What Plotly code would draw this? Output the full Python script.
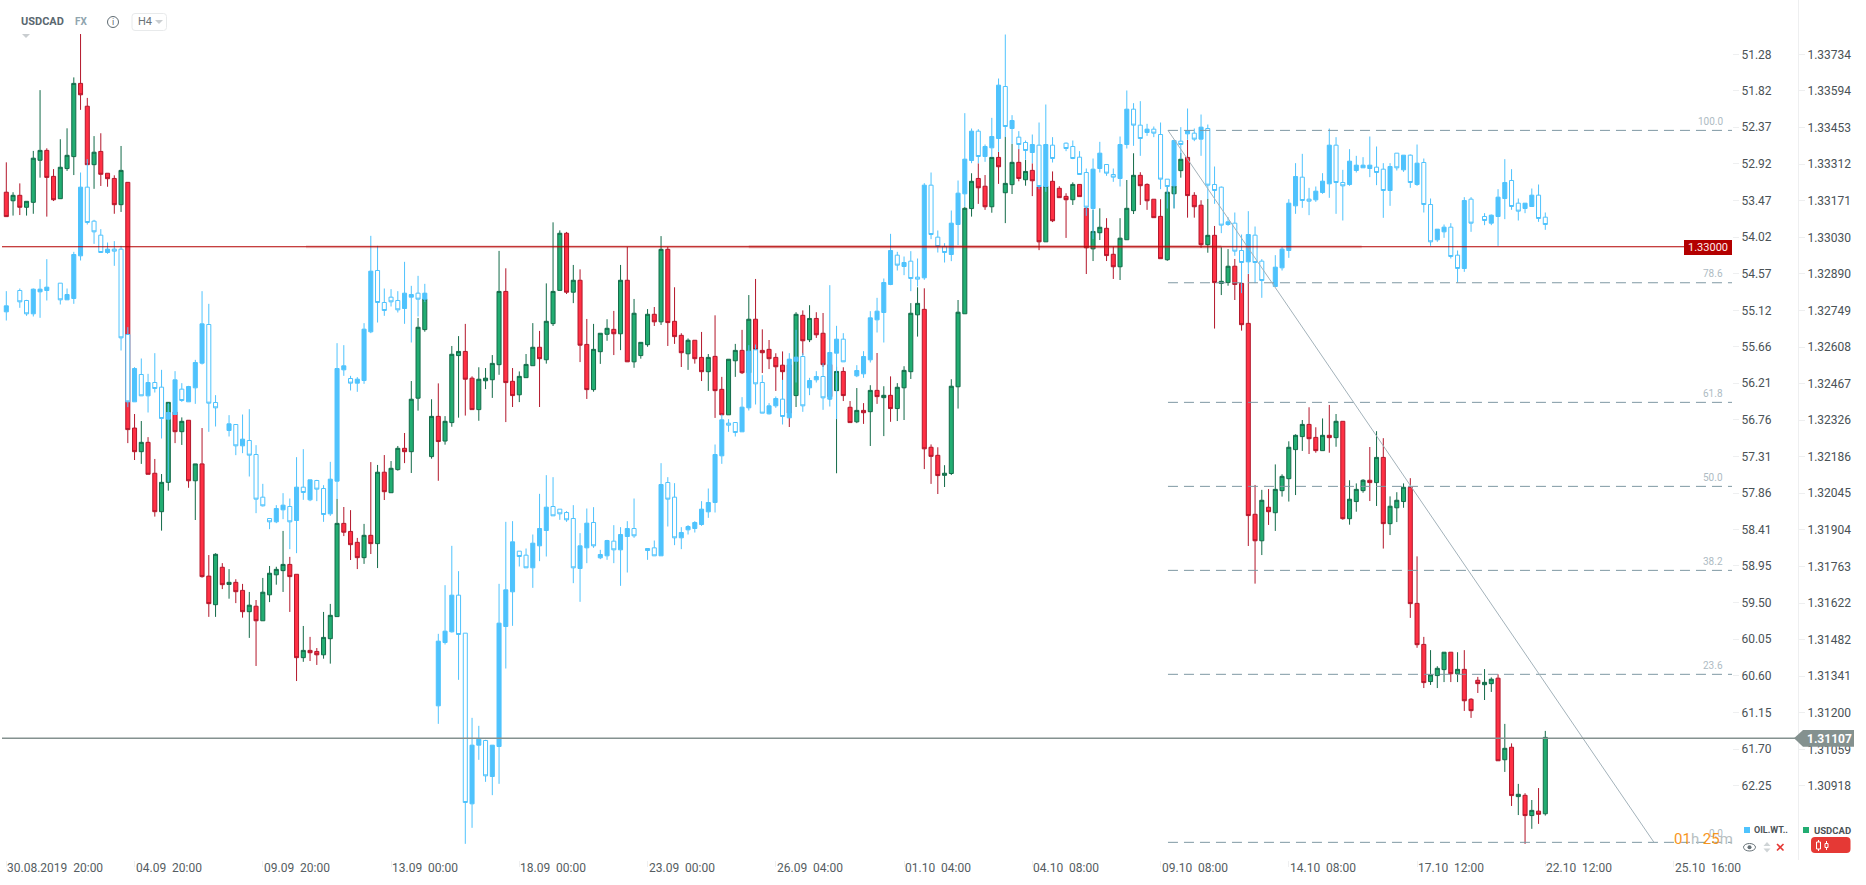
import plotly.graph_objects as go

# USDCAD H4 candles
usd_open = [1.33204,1.33171,1.33192,1.33146,1.33165,1.33327,1.33365,1.33265,1.33179,1.33295,
1.33341,1.33623,1.33535,1.33310,1.33361,1.33277,1.33257,1.33156,1.33242,1.32296,
1.32205,1.32241,1.32122,1.31974,1.32087,1.32358,1.32282,1.32326,1.32093,1.32158,
1.31726,1.31616,1.31760,1.31694,1.31702,1.31671,1.31589,1.31610,1.31554,1.31654,
1.31731,1.31747,1.31771,1.31733,1.31412,1.31440,1.31436,1.31423,1.31485,1.31570,
1.31929,1.31898,1.31856,1.31797,1.31883,1.31851,1.32126,1.32047,1.32136,1.32218,
1.32205,1.32411,1.32675,1.32186,1.32341,1.32246,1.32317,1.32575,1.32591,1.32488,
1.32367,1.32478,1.32482,1.32540,1.32822,1.32476,1.32424,1.32490,1.32536,1.32607,
1.32559,1.32698,1.32826,1.33046,1.32819,1.32865,1.32618,1.32444,1.32590,1.32657,
1.32676,1.32659,1.32865,1.32551,1.32575,1.32617,1.32734,1.32705,1.32984,1.32707,
1.32653,1.32582,1.32634,1.32568,1.32513,1.32572,1.32445,1.32347,1.32555,1.32595,
1.32509,1.32715,1.32595,1.32599,1.32568,1.32538,1.32539,1.32421,1.32730,1.32636,
1.32718,1.32661,1.32540,1.32440,1.32514,1.32376,1.32320,1.32364,1.32359,1.32441,
1.32413,1.32422,1.32371,1.32451,1.32513,1.32732,1.32753,1.32222,1.32191,1.32114,
1.32121,1.32455,1.32736,1.33141,1.33257,1.33227,1.33148,1.33338,1.33202,1.33233,
1.33319,1.33252,1.33288,1.33225,1.33013,1.33246,1.33219,1.33188,1.33175,1.33234,
1.33142,1.32986,1.33048,1.33065,1.32965,1.32917,1.33021,1.33133,1.33269,1.33234,
1.33177,1.33111,1.32944,1.33198,1.33287,1.33338,1.33192,1.33154,1.33002,1.33038,
1.32853,1.32856,1.32919,1.32853,1.32699,1.31964,1.31862,1.31991,1.31970,1.32055,
1.32101,1.32213,1.32263,1.32310,1.32260,1.32209,1.32268,1.32259,1.32322,1.31947,
1.32013,1.32055,1.32095,1.32086,1.32183,1.31928,1.31989,1.32013,1.32068,1.31621,
1.31463,1.31320,1.31343,1.31366,1.31433,1.31350,1.31367,1.31252,1.31325,1.31308,
1.31312,1.31333,1.31019,1.31067,1.30877,1.30882,1.30804,1.30821,1.30811]
usd_high = [1.33319,1.33204,1.33238,1.33169,1.33363,1.33597,1.33373,1.33293,1.33408,1.33450,
1.33646,1.33813,1.33567,1.33420,1.33431,1.33277,1.33269,1.33382,1.33242,1.32350,
1.32323,1.32261,1.32177,1.32119,1.32395,1.32385,1.32337,1.32326,1.32158,1.32296,
1.31807,1.31814,1.31776,1.31753,1.31714,1.31696,1.31665,1.31634,1.31719,1.31765,
1.31762,1.31900,1.31800,1.31733,1.31534,1.31492,1.31449,1.31588,1.31619,1.32023,
1.31992,1.31980,1.31873,1.31927,1.32165,1.32154,1.32192,1.32169,1.32227,1.32277,
1.32477,1.32720,1.32816,1.32407,1.32468,1.32342,1.32612,1.32650,1.32697,1.32495,
1.32530,1.32527,1.32577,1.32978,1.32911,1.32527,1.32514,1.32581,1.32700,1.32670,
1.32853,1.33088,1.33057,1.33051,1.32924,1.32907,1.32716,1.32697,1.32661,1.32715,
1.32747,1.32924,1.32993,1.32793,1.32626,1.32754,1.32762,1.33035,1.32993,1.32838,
1.32661,1.32641,1.32634,1.32666,1.32581,1.32730,1.32493,1.32561,1.32620,1.32674,
1.32808,1.32870,1.32676,1.32635,1.32584,1.32591,1.32558,1.32742,1.32749,1.32769,
1.32742,1.32739,1.32540,1.32532,1.32530,1.32400,1.32450,1.32392,1.32461,1.32585,
1.32457,1.32495,1.32469,1.32534,1.32777,1.32838,1.32834,1.32233,1.32222,1.32153,
1.32484,1.32789,1.33148,1.33277,1.33315,1.33270,1.33338,1.33359,1.33417,1.33390,
1.33370,1.33328,1.33315,1.33225,1.33228,1.33284,1.33227,1.33200,1.33242,1.33234,
1.33148,1.33136,1.33142,1.33104,1.32994,1.33104,1.33251,1.33354,1.33281,1.33238,
1.33177,1.33177,1.33248,1.33228,1.33355,1.33405,1.33204,1.33173,1.33178,1.33074,
1.32992,1.32985,1.32947,1.32853,1.32889,1.32077,1.32058,1.32061,1.32156,1.32118,
1.32245,1.32272,1.32327,1.32376,1.32299,1.32333,1.32385,1.32350,1.32322,1.32095,
1.32083,1.32099,1.32223,1.32284,1.32257,1.32033,1.32049,1.32083,1.32103,1.31802,
1.31492,1.31441,1.31379,1.31433,1.31433,1.31433,1.31441,1.31256,1.31338,1.31368,
1.31336,1.31348,1.31157,1.31082,1.30926,1.30890,1.30864,1.30910,1.31130]
usd_low = [1.33110,1.33114,1.33116,1.33114,1.33121,1.33260,1.33110,1.33170,1.33179,1.33286,
1.33270,1.33521,1.33310,1.33217,1.33228,1.33225,1.33121,1.33128,1.32238,1.32173,
1.32158,1.32118,1.31955,1.31901,1.32055,1.32238,1.32231,1.32066,1.31942,1.31720,
1.31569,1.31569,1.31676,1.31639,1.31622,1.31566,1.31488,1.31380,1.31554,1.31626,
1.31693,1.31665,1.31588,1.31322,1.31396,1.31399,1.31384,1.31408,1.31389,1.31570,
1.31880,1.31788,1.31753,1.31773,1.31811,1.31757,1.32019,1.32047,1.32132,1.32161,
1.32123,1.32363,1.32667,1.32178,1.32093,1.32232,1.32301,1.32336,1.32344,1.32367,
1.32324,1.32446,1.32412,1.32501,1.32319,1.32377,1.32396,1.32490,1.32536,1.32377,
1.32544,1.32689,1.32826,1.32812,1.32777,1.32550,1.32408,1.32436,1.32543,1.32632,
1.32577,1.32596,1.32551,1.32528,1.32563,1.32609,1.32689,1.32693,1.32612,1.32620,
1.32531,1.32520,1.32544,1.32477,1.32439,1.32335,1.32347,1.32347,1.32493,1.32504,
1.32494,1.32596,1.32508,1.32523,1.32439,1.32481,1.32300,1.32377,1.32577,1.32627,
1.32643,1.32531,1.32404,1.32122,1.32400,1.32317,1.32315,1.32312,1.32227,1.32389,
1.32265,1.32320,1.32323,1.32327,1.32485,1.32648,1.32138,1.32081,1.32042,1.32069,
1.32115,1.32371,1.32736,1.33110,1.33159,1.33136,1.33125,1.33236,1.33085,1.33197,
1.33246,1.33229,1.33189,1.32981,1.33013,1.33089,1.33183,1.33028,1.33155,1.33187,
1.32889,1.32939,1.33020,1.32939,1.32870,1.32866,1.33021,1.33120,1.33155,1.33136,
1.33106,1.32948,1.32940,1.33142,1.33260,1.33106,1.33106,1.32990,1.32971,1.32679,
1.32808,1.32844,1.32789,1.32671,1.31842,1.31697,1.31807,1.31923,1.31900,1.32032,
1.32013,1.32038,1.32208,1.32196,1.32201,1.32209,1.32201,1.32224,1.31943,1.31924,
1.31974,1.32047,1.32015,1.31996,1.31832,1.31884,1.31934,1.31989,1.31565,1.31450,
1.31295,1.31307,1.31295,1.31318,1.31318,1.31318,1.31207,1.31180,1.31276,1.31249,
1.31280,1.31015,1.30972,1.30841,1.30806,1.30695,1.30753,1.30772,1.30804]
usd_close = [1.33110,1.33192,1.33146,1.33169,1.33335,1.33365,1.33261,1.33175,1.33300,1.33346,
1.33623,1.33579,1.33310,1.33358,1.33273,1.33256,1.33156,1.33288,1.32290,1.32205,
1.32241,1.32118,1.31974,1.32087,1.32395,1.32282,1.32322,1.32093,1.32158,1.31724,
1.31620,1.31810,1.31693,1.31702,1.31666,1.31589,1.31614,1.31554,1.31664,1.31737,
1.31752,1.31771,1.31724,1.31412,1.31440,1.31431,1.31423,1.31490,1.31575,1.31929,
1.31895,1.31847,1.31797,1.31883,1.31851,1.32126,1.32051,1.32141,1.32218,1.32205,
1.32407,1.32684,1.32793,1.32341,1.32244,1.32322,1.32580,1.32591,1.32484,1.32367,
1.32484,1.32488,1.32545,1.32822,1.32471,1.32421,1.32495,1.32541,1.32607,1.32563,
1.32707,1.32822,1.33046,1.32819,1.32865,1.32615,1.32444,1.32599,1.32661,1.32680,
1.32659,1.32865,1.32551,1.32738,1.32626,1.32734,1.32705,1.32984,1.32702,1.32648,
1.32586,1.32634,1.32563,1.32513,1.32568,1.32440,1.32347,1.32561,1.32595,1.32509,
1.32715,1.32598,1.32586,1.32563,1.32532,1.32513,1.32354,1.32734,1.32632,1.32718,
1.32655,1.32540,1.32417,1.32514,1.32421,1.32317,1.32364,1.32355,1.32441,1.32417,
1.32422,1.32371,1.32453,1.32518,1.32738,1.32776,1.32216,1.32187,1.32113,1.32122,
1.32457,1.32742,1.33142,1.33246,1.33221,1.33148,1.33338,1.33302,1.33238,1.33319,
1.33257,1.33284,1.33248,1.33013,1.33227,1.33094,1.33183,1.33175,1.33234,1.33187,
1.32990,1.33053,1.33069,1.32960,1.32917,1.33027,1.33142,1.33269,1.33229,1.33171,
1.33106,1.32948,1.33204,1.33228,1.33331,1.33191,1.33148,1.33002,1.33038,1.32856,
1.32861,1.32919,1.32849,1.32694,1.31959,1.31862,1.32018,1.31974,1.32060,1.32110,
1.32222,1.32268,1.32310,1.32255,1.32209,1.32268,1.32259,1.32322,1.31947,1.32022,
1.32060,1.32095,1.32086,1.32183,1.31928,1.31995,1.32018,1.32068,1.31620,1.31462,
1.31316,1.31346,1.31371,1.31433,1.31350,1.31367,1.31246,1.31208,1.31312,1.31317,
1.31329,1.31015,1.31063,1.30881,1.30886,1.30804,1.30824,1.30809,1.31105]

# OIL.WTI candles, drawn on the inverted scale. None where the bar is missing
oil_open = [55.14,None,54.82,54.97,55.17,54.84,54.82,None,54.71,54.96,
54.94,54.30,53.27,53.78,53.99,54.25,54.20,54.20,55.48,56.49,
56.08,56.40,56.20,56.27,56.75,56.68,56.30,56.49,56.28,55.91,
55.33,56.50,None,56.92,56.83,57.15,57.07,57.28,57.92,58.24,
58.29,58.11,58.06,58.27,57.77,57.96,57.67,57.79,58.17,57.68,
56.01,56.14,56.21,56.17,55.44,54.52,55.00,54.92,54.97,55.09,
54.92,54.86,54.95,None,61.05,60.10,59.94,59.39,59.96,62.52,
61.64,61.57,62.11,61.66,59.86,59.34,58.73,58.79,58.98,58.65,
58.42,58.06,58.10,58.15,58.24,58.99,58.68,58.30,58.83,58.80,
58.58,58.71,58.51,58.39,None,58.72,58.68,58.80,57.70,57.92,
58.53,58.41,58.39,58.33,58.14,58.00,57.30,56.81,56.80,56.94,
56.58,55.71,56.20,56.67,56.55,56.45,56.73,55.88,55.81,56.28,
56.16,56.11,56.45,55.76,55.55,None,56.10,56.07,55.86,55.26,
55.15,54.73,54.29,54.46,54.38,54.62,54.63,53.24,54.02,54.16,
54.28,53.83,53.37,52.87,52.43,52.81,52.68,52.54,51.76,52.39,
52.52,52.60,52.75,52.64,53.26,52.64,None,52.61,52.66,52.82,
53.05,53.59,52.99,52.93,53.08,53.14,52.63,52.10,52.34,52.45,
52.40,52.48,53.15,53.25,52.58,52.47,52.46,52.55,52.39,53.23,
53.27,53.83,53.81,54.22,54.39,53.99,54.38,None,54.76,54.48,
54.22,53.55,53.12,53.45,53.46,53.35,53.22,52.64,53.20,53.23,
53.02,52.98,52.99,52.97,53.00,53.32,52.76,53.01,52.79,53.23,
52.90,53.53,54.06,53.94,53.87,54.29,54.49,53.45,None,53.71,
53.81,53.71,53.44,53.17,53.51,53.59,53.56,53.39,53.72]
oil_high = [55.27,None,55.08,55.20,55.21,55.23,54.97,None,55.03,54.96,
55.02,54.37,53.83,54.12,54.25,54.27,54.45,55.72,56.57,56.49,
56.40,56.65,56.35,57.04,57.69,56.68,56.49,56.49,56.52,55.93,
56.94,56.86,None,57.01,57.29,57.26,57.61,58.16,58.06,58.40,
58.31,58.25,58.70,58.76,57.96,57.98,57.98,58.29,58.20,57.95,
56.10,56.32,56.34,56.22,55.46,55.30,55.20,55.06,55.15,55.32,
55.60,55.21,54.99,None,61.32,60.13,59.95,60.66,63.12,62.88,
61.86,62.19,62.39,62.22,60.49,59.85,58.96,58.98,59.28,58.88,
58.81,58.20,58.26,58.29,59.21,59.49,58.91,58.68,58.85,58.86,
58.91,59.25,59.05,58.53,None,58.86,58.80,58.80,58.36,58.64,
58.70,58.48,58.45,58.35,58.23,58.15,57.42,56.94,57.01,56.94,
56.62,56.53,56.66,56.68,56.58,56.83,56.73,56.20,56.64,56.39,
56.20,56.61,56.56,56.75,55.89,None,56.12,56.13,55.90,55.45,
55.60,54.74,54.52,54.59,54.83,54.76,54.66,54.05,54.25,54.40,
54.38,54.14,53.56,52.91,52.91,52.89,52.82,52.74,52.52,52.62,
52.70,52.86,52.91,53.30,53.34,52.90,None,52.73,52.85,53.08,
53.70,54.05,53.05,53.10,53.19,53.26,52.69,52.65,52.80,52.50,
52.52,53.30,53.59,53.59,52.85,52.56,52.58,52.80,53.45,53.52,
53.96,53.85,54.30,54.86,54.57,54.71,54.93,None,54.76,54.52,
54.33,53.67,53.58,53.69,53.49,53.37,53.43,53.67,53.77,53.25,
53.05,52.98,53.12,53.24,53.73,53.55,53.02,53.04,53.28,53.25,
53.65,54.15,54.09,54.03,54.34,54.70,54.54,53.94,None,53.84,
53.84,54.15,53.75,53.61,53.77,53.66,53.56,53.79,53.91]
oil_low = [54.83,None,54.79,54.96,54.79,54.65,54.35,None,54.71,54.79,
54.24,53.05,52.85,53.76,53.90,54.10,54.08,54.15,55.37,55.97,
55.84,56.07,55.76,56.01,56.51,56.03,56.21,56.25,55.86,54.83,
55.02,56.39,None,56.69,56.83,56.68,56.60,57.14,57.72,58.24,
58.04,57.86,57.94,57.32,57.20,57.66,57.66,57.74,57.39,55.61,
55.64,56.10,56.12,55.31,54.00,54.15,54.79,54.80,54.83,54.39,
54.75,54.60,54.72,None,59.97,59.24,58.65,59.03,59.96,61.23,
61.35,61.56,61.64,59.22,58.29,58.28,58.73,58.69,58.48,57.87,
57.59,57.62,58.10,58.13,58.04,58.46,58.09,58.07,58.71,58.56,
58.34,58.37,58.28,57.94,None,58.69,58.57,57.41,57.62,57.71,
58.37,58.34,58.28,57.98,57.79,57.13,56.68,56.75,56.80,56.42,
55.64,55.63,56.09,56.51,56.41,56.16,55.76,55.41,55.76,56.13,
56.03,55.91,54.74,55.35,55.46,None,55.94,55.73,55.13,54.93,
54.64,53.97,54.24,54.31,54.23,54.34,53.21,53.05,53.92,54.11,
53.62,53.17,52.16,52.39,52.40,52.63,52.23,51.64,50.98,52.19,
52.43,52.57,52.48,52.30,52.03,52.52,None,52.60,52.57,52.73,
52.99,52.84,52.59,52.93,52.99,52.51,51.82,52.01,51.98,52.32,
52.36,52.30,53.15,52.56,52.37,52.09,52.39,52.18,52.33,52.96,
53.26,53.72,53.65,53.98,53.63,53.86,54.35,None,54.29,54.17,
53.45,52.91,52.77,53.28,53.26,53.06,52.39,52.52,53.01,52.70,
52.80,52.82,52.51,52.66,52.91,52.91,52.76,52.79,52.78,52.63,
52.84,53.44,53.90,53.83,53.81,54.22,53.42,53.42,None,53.66,
53.68,53.30,52.85,53.00,53.44,53.51,53.29,53.23,53.65]
oil_close = [55.05,None,54.99,55.17,54.80,54.80,54.77,None,54.96,54.88,
54.28,53.27,53.80,53.94,54.25,54.20,54.23,55.53,56.49,55.99,
56.40,56.20,56.29,56.74,56.65,56.16,56.47,56.26,55.90,55.32,
56.51,56.58,None,56.82,57.15,57.05,57.29,57.95,58.05,58.29,
58.09,58.04,58.29,57.77,57.85,57.66,57.80,58.18,57.65,55.99,
55.95,56.21,56.15,55.40,54.53,55.00,55.12,54.99,55.11,54.86,
54.88,54.95,54.86,None,60.08,59.93,59.39,59.98,62.50,61.64,
61.55,62.10,61.64,59.81,59.31,58.59,58.81,58.98,58.61,58.39,
58.07,58.20,58.17,58.26,58.98,58.65,58.31,58.65,58.78,58.57,
58.71,58.48,58.39,58.50,None,58.69,58.80,57.73,57.95,58.53,
58.45,58.36,58.30,58.10,58.00,57.28,56.76,56.84,56.95,56.57,
55.73,56.22,56.66,56.55,56.44,56.71,55.85,55.82,56.55,56.17,
56.11,56.43,55.75,55.55,55.89,None,56.02,55.81,55.23,55.13,
54.70,54.22,54.44,54.40,54.64,54.65,53.24,53.98,54.16,54.25,
53.81,53.36,52.85,52.43,52.81,52.66,52.51,51.74,52.36,52.27,
52.63,52.72,52.63,53.26,52.63,52.84,None,52.69,52.84,53.08,
53.57,53.00,52.76,53.06,53.12,52.63,52.10,52.34,52.54,52.40,
52.46,53.15,53.26,52.57,52.63,52.42,52.55,52.37,53.24,53.32,
53.84,53.79,54.23,54.40,53.98,54.40,54.67,None,54.47,54.20,
53.51,53.11,53.47,53.48,53.33,53.18,52.64,53.20,53.25,52.88,
52.94,52.94,52.94,53.05,53.32,52.96,52.98,52.79,53.20,52.91,
53.53,54.09,53.90,53.87,54.31,54.49,53.47,53.81,None,53.77,
53.69,53.42,53.20,53.56,53.63,53.51,53.39,53.74,53.83]

bars = list(range(len(usd_open)))

# axes
time_labels = ["30.08.2019\u00a0\u00a020:00", "04.09\u00a0\u00a020:00", "09.09\u00a0\u00a020:00",
               "13.09\u00a0\u00a000:00", "18.09\u00a0\u00a000:00", "23.09\u00a0\u00a000:00",
               "26.09\u00a0\u00a004:00", "01.10\u00a0\u00a004:00", "04.10\u00a0\u00a008:00",
               "09.10\u00a0\u00a008:00", "14.10\u00a0\u00a008:00", "17.10\u00a0\u00a012:00",
               "22.10\u00a0\u00a012:00", "25.10\u00a0\u00a016:00"]
time_ticks = [i * 19 for i in range(len(time_labels))]
oil_ticks = [51.28, 51.82, 52.37, 52.92, 53.47, 54.02, 54.57, 55.12, 55.66, 56.21, 56.76,
             57.31, 57.86, 58.41, 58.95, 59.50, 60.05, 60.60, 61.15, 61.70, 62.25]
usd_ticks = [1.33734, 1.33594, 1.33453, 1.33312, 1.33171, 1.33030, 1.32890, 1.32749, 1.32608,
             1.32467, 1.32326, 1.32186, 1.32045, 1.31904, 1.31763, 1.31622, 1.31482, 1.31341,
             1.31200, 1.31059, 1.30918]

# drawing tools on the chart
fib_levels = [100.0, 78.6, 61.8, 50.0, 38.2, 23.6, 0.0]
fib_high = 1.33442
fib_low = 1.30701
alert_level = 1.32994
last_price = 1.31102

W, H, PLOT_R, PLOT_B = 1866, 885, 1732, 860
GREEN, GREEN_LN = "#22ad72", "#136b49"
RED, RED_LN = "#ff3044", "#b3172b"
BLUE = "#4fc3fd"
X_MIN, X_MAX = -0.933, 255.66


def px(x):
    return x / W


def py(y):
    return (PLOT_B - y) / PLOT_B


fig = go.Figure()

fig.add_trace(go.Candlestick(
    x=bars, open=usd_open, high=usd_high, low=usd_low, close=usd_close,
    xaxis="x", yaxis="y", name="USDCAD", hoverinfo="skip", showlegend=False,
    increasing=dict(fillcolor=GREEN, line=dict(color=GREEN_LN, width=1)),
    decreasing=dict(fillcolor=RED, line=dict(color=RED_LN, width=1)),
))
fig.add_trace(go.Candlestick(
    x=bars, open=oil_open, high=oil_high, low=oil_low, close=oil_close,
    xaxis="x", yaxis="y2", name="OIL.WTI", hoverinfo="skip", showlegend=False,
    increasing=dict(fillcolor="white", line=dict(color=BLUE, width=1)),
    decreasing=dict(fillcolor=BLUE, line=dict(color=BLUE, width=1)),
))

shapes = []
annotations = []


def text(x, y, s, size=12, color="#4a5256", anchor="left", bold=False):
    annotations.append(dict(
        x=px(x), y=py(y), xref="paper", yref="paper", text=f"<b>{s}</b>" if bold else s,
        showarrow=False, xanchor=anchor, yanchor="middle", xshift=0, yshift=0,
        font=dict(family="Roboto", size=size, color=color), borderpad=0,
    ))


def paper_line(x0, y0, x1, y1, color, width=1, dash="solid"):
    shapes.append(dict(type="line", xref="paper", yref="paper", x0=px(x0), y0=py(y0), x1=px(x1), y1=py(y1),
                       line=dict(color=color, width=width, dash=dash)))


def paper_rect(x0, y0, x1, y1, fill, line=None, radius=0):
    r = radius
    if r:
        path = (f"M{px(x0+r)},{py(y0)} L{px(x1-r)},{py(y0)} Q{px(x1)},{py(y0)} {px(x1)},{py(y0+r)} "
                f"L{px(x1)},{py(y1-r)} Q{px(x1)},{py(y1)} {px(x1-r)},{py(y1)} "
                f"L{px(x0+r)},{py(y1)} Q{px(x0)},{py(y1)} {px(x0)},{py(y1-r)} "
                f"L{px(x0)},{py(y0+r)} Q{px(x0)},{py(y0)} {px(x0+r)},{py(y0)} Z")
    else:
        path = f"M{px(x0)},{py(y0)} L{px(x1)},{py(y0)} L{px(x1)},{py(y1)} L{px(x0)},{py(y1)} Z"
    shapes.append(dict(type="path", xref="paper", yref="paper", path=path, fillcolor=fill,
                       line=dict(color=line or fill, width=1 if line else 0)))


def paper_poly(points, fill):
    path = "M" + " L".join(f"{px(a)},{py(b)}" for a, b in points) + " Z"
    shapes.append(dict(type="path", xref="paper", yref="paper", path=path, fillcolor=fill, line=dict(width=0)))


# fibonacci retracement and its trend line
for level in fib_levels:
    price = fib_low + (fib_high - fib_low) * level / 100
    shapes.append(dict(type="line", xref="x", yref="y", x0=172.1, x1=X_MAX, y0=price, y1=price,
                       line=dict(color="#7f98a3", width=1, dash="10px,6px")))
    annotations.append(dict(x=px(1725), y=price, xref="paper", yref="y", text=f"{level:.1f}", showarrow=False,
                            xanchor="right", yanchor="middle", yshift=9,
                            font=dict(family="Roboto", size=10, color="#aebbc3")))
shapes.append(dict(type="line", xref="x", yref="y", x0=172.1, x1=244.1, y0=fib_high, y1=fib_low,
                   line=dict(color="#a3b2ba", width=1)))

# horizontal alert at 1.33000 and the pale traces under it
shapes.append(dict(type="line", xref="x", yref="y", x0=44.4, x1=200.8, y0=alert_level, y1=alert_level,
                   line=dict(color="rgba(190,40,40,0.2)", width=3)))
shapes.append(dict(type="line", xref="x", yref="y", x0=110, x1=180, y0=alert_level, y1=alert_level,
                   line=dict(color="rgba(190,40,40,0.25)", width=3)))
shapes.append(dict(type="line", xref="paper", yref="y", x0=px(2), x1=px(1684), y0=alert_level, y1=alert_level,
                   line=dict(color="#b30000", width=1)))
paper_rect(1684, 240, 1732, 255, "#b30000")
text(1708, 247.5, "1.33000", size=11, color="#ffe9e9", anchor="center")

# last price line and tag
shapes.append(dict(type="line", xref="paper", yref="y", x0=px(2), x1=px(1796), y0=last_price, y1=last_price,
                   line=dict(color="#84918f", width=1.5)))
paper_poly([(1794, 738.3), (1803, 730), (1854, 730), (1854, 746.7), (1803, 746.7)], "#84918f")
text(1829, 738.5, "1.31107", size=12, color="white", anchor="center", bold=True)

# header
text(20, 22, "USDCAD", size=11, color="#5a6870", bold=True)
text(74, 22, "FX", size=10, color="#90a4ae", bold=True)
paper_poly([(22, 34), (30, 34), (26, 38)], "#c9cdd0")
shapes.append(dict(type="circle", xref="paper", yref="paper", x0=px(107.5), x1=px(118.5), y0=py(16.5), y1=py(27.5),
                   line=dict(color="#5f6b72", width=1), fillcolor="white"))
text(113, 22, "i", size=9, color="#5f6b72", anchor="center")
paper_rect(132, 13.5, 166.5, 30.5, "white", line="#e8eaeb", radius=3)
text(137, 22, "H4", size=11, color="#6b7378")
paper_poly([(155, 20), (163, 20), (159, 24)], "#c9cdd0")

# countdown
annotations.append(dict(
    x=px(1731.5), y=py(839), xref="paper", yref="paper", showarrow=False, xanchor="right", yanchor="middle",
    xshift=3, font=dict(family="Roboto", size=15, color="#b8bfc2"),
    text='<span style="color:#f7961e">01</span>h <span style="color:#f7961e">25</span>m',
))

# time labels sit to the right of their tick
for tick, label in zip(time_ticks, time_labels):
    annotations.append(dict(x=tick, y=py(868), xref="x", yref="paper", text=label, showarrow=False,
                            xanchor="left", yanchor="middle", xshift=-1,
                            font=dict(family="Roboto", size=12, color="#555d61")))

# series badges, bottom right
paper_rect(1744, 827, 1750, 833, BLUE)
text(1753, 830, "OIL.WT..", size=9, color="#4a5256", bold=True)
paper_rect(1803, 827, 1809, 833, GREEN)
text(1813, 830, "USDCAD", size=9.5, color="#4a5256", bold=True)
shapes.append(dict(type="circle", xref="paper", yref="paper", x0=px(1743.5), x1=px(1755.5), y0=py(843.5), y1=py(851),
                   line=dict(color="#667177", width=1), fillcolor="white"))
shapes.append(dict(type="circle", xref="paper", yref="paper", x0=px(1747.5), x1=px(1751.5), y0=py(845.2), y1=py(849.2),
                   line=dict(width=0), fillcolor="#667177"))
paper_poly([(1763.5, 846), (1770.5, 846), (1767, 842)], "#cfd4d6")
paper_poly([(1763.5, 848.5), (1770.5, 848.5), (1767, 852.5)], "#cfd4d6")
paper_line(1777, 844, 1783.5, 850.5, "#e53935", width=1.6)
paper_line(1783.5, 844, 1777, 850.5, "#e53935", width=1.6)
paper_rect(1811, 837, 1850.5, 853, "#e53935", radius=4)
paper_line(1818.5, 840, 1818.5, 851, "white")
paper_rect(1816.5, 842, 1820.5, 849, "#e53935", line="white")
paper_line(1826.5, 841, 1826.5, 850, "white")
paper_rect(1825, 843.5, 1828, 847.5, "#e53935", line="white")

fig.update_layout(
    width=W, height=H,
    margin=dict(l=0, r=0, t=0, b=H - PLOT_B, autoexpand=False),
    paper_bgcolor="white", plot_bgcolor="white",
    font=dict(family="Roboto", size=12, color="#4a5256"),
    showlegend=False, dragmode=False, hovermode=False,
    boxmode="overlay", boxgap=0.4, boxgroupgap=0,
    xaxis=dict(domain=[0, PLOT_R / W], range=[X_MIN, X_MAX], rangeslider=dict(visible=False), showgrid=False,
               zeroline=False, showline=False, tickmode="array", tickvals=time_ticks, ticktext=[""] * len(time_ticks),
               ticks="outside", ticklen=6, tickcolor="#eeeff0"),
    yaxis=dict(range=[1.30633, 1.33944], side="right", anchor="free", position=1798 / W, showgrid=False, zeroline=False,
               tickmode="array", tickvals=usd_ticks, ticktext=[f"{v:.5f}" for v in usd_ticks],
               ticks="outside", ticklen=6, tickcolor="#eeeff0", showline=True, linecolor="#eeeff0", linewidth=1,
               tickfont=dict(family="Roboto", size=12, color="#4a5256")),
    yaxis2=dict(range=[63.3625, 50.4625], side="right", anchor="x", overlaying="y", showgrid=False, zeroline=False,
                tickmode="array", tickvals=oil_ticks, ticktext=[f"{v:.2f}" for v in oil_ticks],
                ticks="outside", ticklen=6, tickcolor="#eeeff0", showline=False,
                tickfont=dict(family="Roboto", size=12, color="#4a5256")),
    shapes=shapes, annotations=annotations,
)

fig.write_html("out.html", config=dict(displayModeBar=False, responsive=False),
               post_script="document.body.style.margin='0';document.documentElement.style.overflow='hidden';")
